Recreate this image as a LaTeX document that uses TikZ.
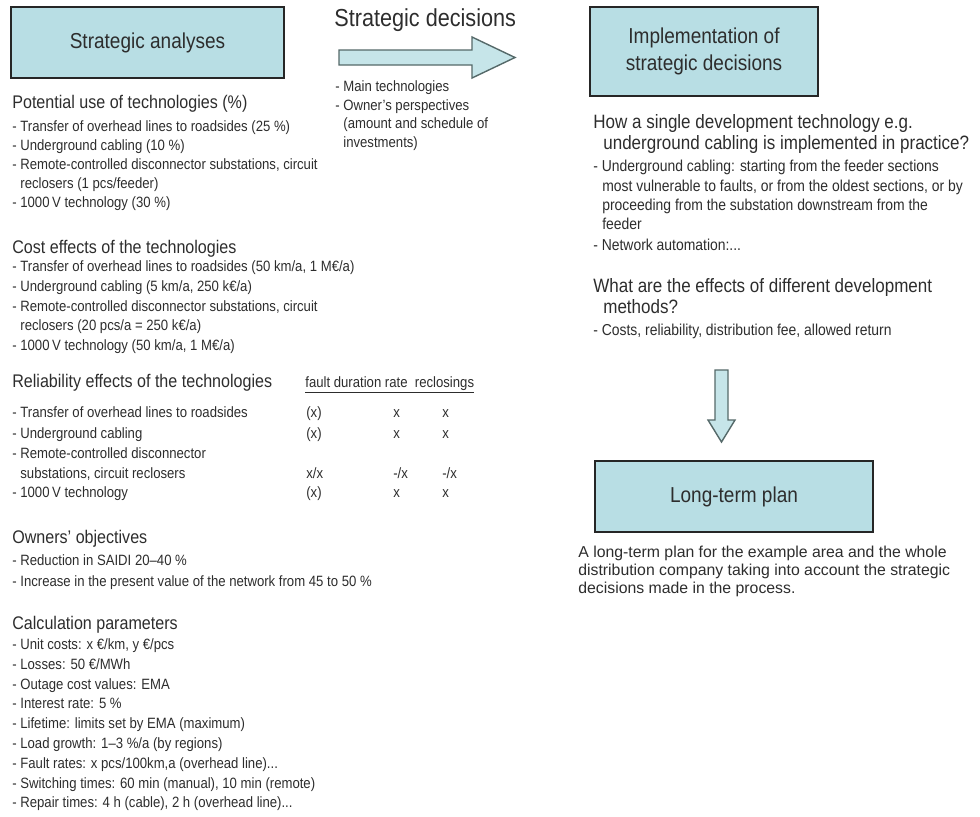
\documentclass[tikz,border=0pt]{standalone}
\usepackage{fontspec}
\setmainfont{Liberation Sans}[FakeStretch=0.88]
\newfontfamily\plainsans{Liberation Sans}
\usepackage{tikz}
\definecolor{boxcolor}{RGB}{184, 222, 228}
\definecolor{arrowcolor}{RGB}{198, 229, 233}
\definecolor{edgecolor}{RGB}{85, 105, 105}
\definecolor{inkcolor}{RGB}{45, 45, 45}
\newcommand{\titlesize}{\fontsize{12.3}{15.3}\selectfont}
\newcommand{\decisionsize}{\fontsize{14}{16}\selectfont}
\newcommand{\headsize}{\fontsize{10.4}{12.5}\selectfont}
\newcommand{\asksize}{\fontsize{11}{13}\selectfont}
\newcommand{\bodysize}{\fontsize{8.5}{10.5}\selectfont}
\newcommand{\notesize}{\fontsize{9}{11}\selectfont}
\newcommand{\plansize}{\plainsans\fontsize{9}{11}\selectfont}

\begin{document}
\begin{tikzpicture}[x=0.02cm, y=-0.02cm, text=inkcolor,
        stage/.style={rectangle, draw=black!85, line width=1pt, fill=boxcolor, inner sep=0pt, align=center, font=\titlesize},
        head/.style={anchor=base west, inner sep=0pt, font=\headsize},
        ask/.style={anchor=base west, inner sep=0pt, font=\asksize},
        item/.style={anchor=base west, inner sep=0pt, font=\bodysize},
        note/.style={anchor=base west, inner sep=0pt, font=\notesize},
        plan/.style={anchor=base west, inner sep=0pt, font=\plansize},
        blockarrow/.style={draw=edgecolor, fill=arrowcolor, line width=0.8pt, line join=miter}
    ]
        \useasboundingbox (0,0) rectangle (980,816);

        % Boxes
        \node[stage, minimum width=5.46cm, minimum height=1.42cm] (analyses) at (147.5,42.5) {Strategic analyses};
        \node[stage, minimum width=4.56cm, minimum height=1.78cm] (implementation) at (704,51.5) {Implementation of\\strategic decisions};
        \node[stage, minimum width=5.56cm, minimum height=1.42cm] (longterm) at (734,496.5) {Long-term plan};

        % Strategic decisions arrow
        \draw[blockarrow] (339,50) -- (472,50) -- (472,37) -- (515,57.5) -- (472,78) -- (472,65) -- (339,65) -- cycle;
        \node[anchor=base west, inner sep=0pt, font=\decisionsize] (decisions) at (334,26) {Strategic decisions};
        \node[item] (dec1) at (335,91) {- Main technologies};
        \node[item] (dec2) at (335,110) {- Owner’s perspectives};
        \node[item] (dec3) at (335,128) {\phantom{- }(amount and schedule of};
        \node[item] (dec4) at (335,147) {\phantom{- }investments)};

        % Down arrow to the long-term plan
        \draw[blockarrow] (715,370) -- (728,370) -- (728,420) -- (735,420) -- (721.5,442) -- (708,420) -- (715,420) -- cycle;

        % Potential use
        \node[head] (potential) at (12,108) {Potential use of technologies (\%)};
        \node[item] (pot1) at (12,131) {- Transfer of overhead lines to roadsides (25 \%)};
        \node[item] (pot2) at (12,150) {- Underground cabling (10 \%)};
        \node[item] (pot3) at (12,169) {- Remote-controlled disconnector substations, circuit};
        \node[item] (pot4) at (12,188) {\phantom{- }reclosers (1 pcs/feeder)};
        \node[item] (pot5) at (12,207) {- 1000\,V technology (30 \%)};

        % Cost effects
        \node[head] (cost) at (12,253) {Cost effects of the technologies};
        \node[item] (cost1) at (12,271) {- Transfer of overhead lines to roadsides (50 km/a, 1 M€/a)};
        \node[item] (cost2) at (12,291) {- Underground cabling (5 km/a, 250 k€/a)};
        \node[item] (cost3) at (12,311) {- Remote-controlled disconnector substations, circuit};
        \node[item] (cost4) at (12,330) {\phantom{- }reclosers (20 pcs/a = 250 k€/a)};
        \node[item] (cost5) at (12,350) {- 1000\,V technology (50 km/a, 1 M€/a)};

        % Reliability effects
        \node[head] (reliability) at (12,387) {Reliability effects of the technologies};
        \node[item] (columns) at (305,387) {\underline{fault duration rate\ \ reclosings}};
        \node[item] (rel1) at (12,417) {- Transfer of overhead lines to roadsides};
        \node[item] (rel1a) at (306,417) {(x)};
        \node[item] (rel1b) at (393,417) {x};
        \node[item] (rel1c) at (442,417) {x};
        \node[item] (rel2) at (12,438) {- Underground cabling};
        \node[item] (rel2a) at (306,438) {(x)};
        \node[item] (rel2b) at (393,438) {x};
        \node[item] (rel2c) at (442,438) {x};
        \node[item] (rel3) at (12,458) {- Remote-controlled disconnector};
        \node[item] (rel4) at (12,478) {\phantom{- }substations, circuit reclosers};
        \node[item] (rel4a) at (306,478) {x/x};
        \node[item] (rel4b) at (393,478) {-/x};
        \node[item] (rel4c) at (442,478) {-/x};
        \node[item] (rel5) at (12,497) {- 1000\,V technology};
        \node[item] (rel5a) at (306,497) {(x)};
        \node[item] (rel5b) at (393,497) {x};
        \node[item] (rel5c) at (442,497) {x};

        % Owners' objectives
        \node[head] (owners) at (12,543) {Owners’ objectives};
        \node[item] (own1) at (12,565) {- Reduction in SAIDI 20–40 \%};
        \node[item] (own2) at (12,586) {- Increase in the present value of the network from 45 to 50 \%};

        % Calculation parameters
        \node[head] (calc) at (12,629) {Calculation parameters};
        \node[item] (calc1) at (12,649) {- Unit costs: x €/km, y €/pcs};
        \node[item] (calc2) at (12,669) {- Losses: 50 €/MWh};
        \node[item] (calc3) at (12,689) {- Outage cost values: EMA};
        \node[item] (calc4) at (12,708) {- Interest rate: 5 \%};
        \node[item] (calc5) at (12,728) {- Lifetime: limits set by EMA (maximum)};
        \node[item] (calc6) at (12,748) {- Load growth: 1–3 \%/a (by regions)};
        \node[item] (calc7) at (12,768) {- Fault rates: x pcs/100km,a (overhead line)...};
        \node[item] (calc8) at (12,788) {- Switching times: 60 min (manual), 10 min (remote)};
        \node[item] (calc9) at (12,807) {- Repair times: 4 h (cable), 2 h (overhead line)...};

        % Implementation questions
        \node[ask] (how1) at (593,128) {How a single development technology e.g.};
        \node[ask] (how2) at (603,149) {underground cabling is implemented in practice?};
        \node[note] (how3) at (593,171) {- Underground cabling: starting from the feeder sections};
        \node[note] (how4) at (602,191) {most vulnerable to faults, or from the oldest sections, or by};
        \node[note] (how5) at (602,210) {proceeding from the substation downstream from the};
        \node[note] (how6) at (602,229) {feeder};
        \node[note] (how7) at (593,250) {- Network automation:...};
        \node[ask] (what1) at (593,292) {What are the effects of different development};
        \node[ask] (what2) at (603,313) {methods?};
        \node[note] (what3) at (593,335) {- Costs, reliability, distribution fee, allowed return};

        % Long-term plan text
        \node[plan] (plan1) at (578,557) {A long-term plan for the example area and the whole};
        \node[plan] (plan2) at (578,575) {distribution company taking into account the strategic};
        \node[plan] (plan3) at (578,593) {decisions made in the process.};

    \end{tikzpicture}
\end{document}
